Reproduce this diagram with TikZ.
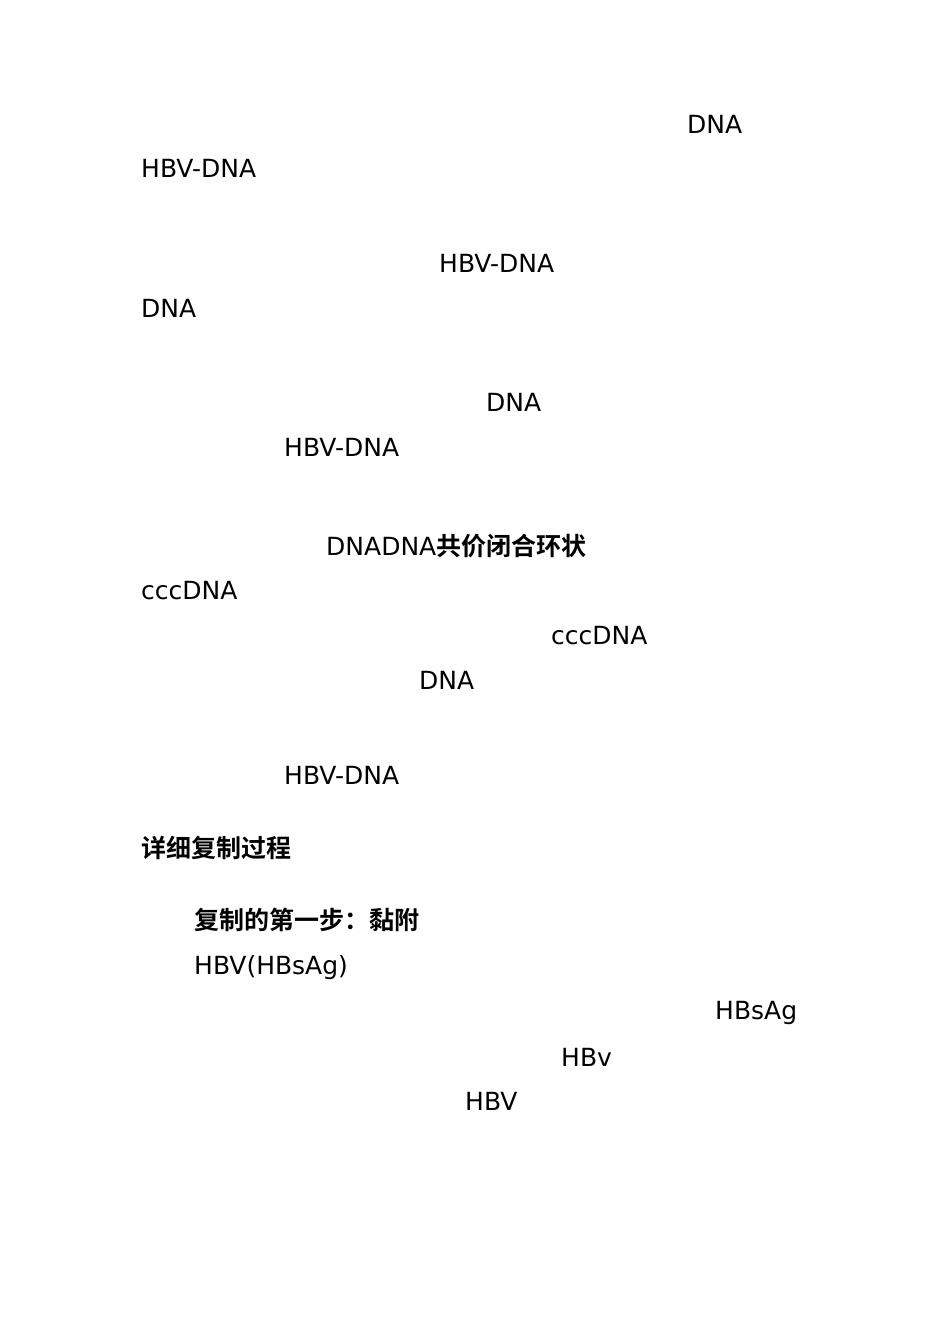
\documentclass[tikz,border=0pt]{standalone}
\usepackage{fontspec}
\setmainfont{DejaVu Sans}
\newfontfamily\cjk{Noto Sans CJK SC Bold}
\begin{document}
\begin{tikzpicture}[x=1pt,y=-1pt,t/.style={anchor=west,inner sep=0pt,font=\fontsize{25}{30}\selectfont}]
\useasboundingbox (0,0) rectangle (950,1344);
\node[t] (a1) at (687,124) {DNA};
\node[t] (a2) at (141,168) {HBV-DNA};
\node[t] (a3) at (439,263) {HBV-DNA};
\node[t] (a4) at (141,308) {DNA};
\node[t] (a5) at (486,402) {DNA};
\node[t] (a6) at (284,447) {HBV-DNA};
\node[t] (a7) at (326,546) {DNADNA{\cjk 共价闭合环状}};
\node[t] (a8) at (141,591) {cccDNA};
\node[t] (a9) at (551,636) {cccDNA};
\node[t] (a10) at (419,680) {DNA};
\node[t] (a11) at (284,775) {HBV-DNA};
\node[t] (a12) at (141,848) {\cjk 详细复制过程};
\node[t] (a13) at (194,920) {\cjk 复制的第一步：黏附};
\node[t] (a14) at (194,968) {HBV(HBsAg)};
\node[t] (a15) at (715,1013) {HBsAg};
\node[t] (a16) at (561,1057) {HBv};
\node[t] (a17) at (465,1101) {HBV};
\end{tikzpicture}
\end{document}
